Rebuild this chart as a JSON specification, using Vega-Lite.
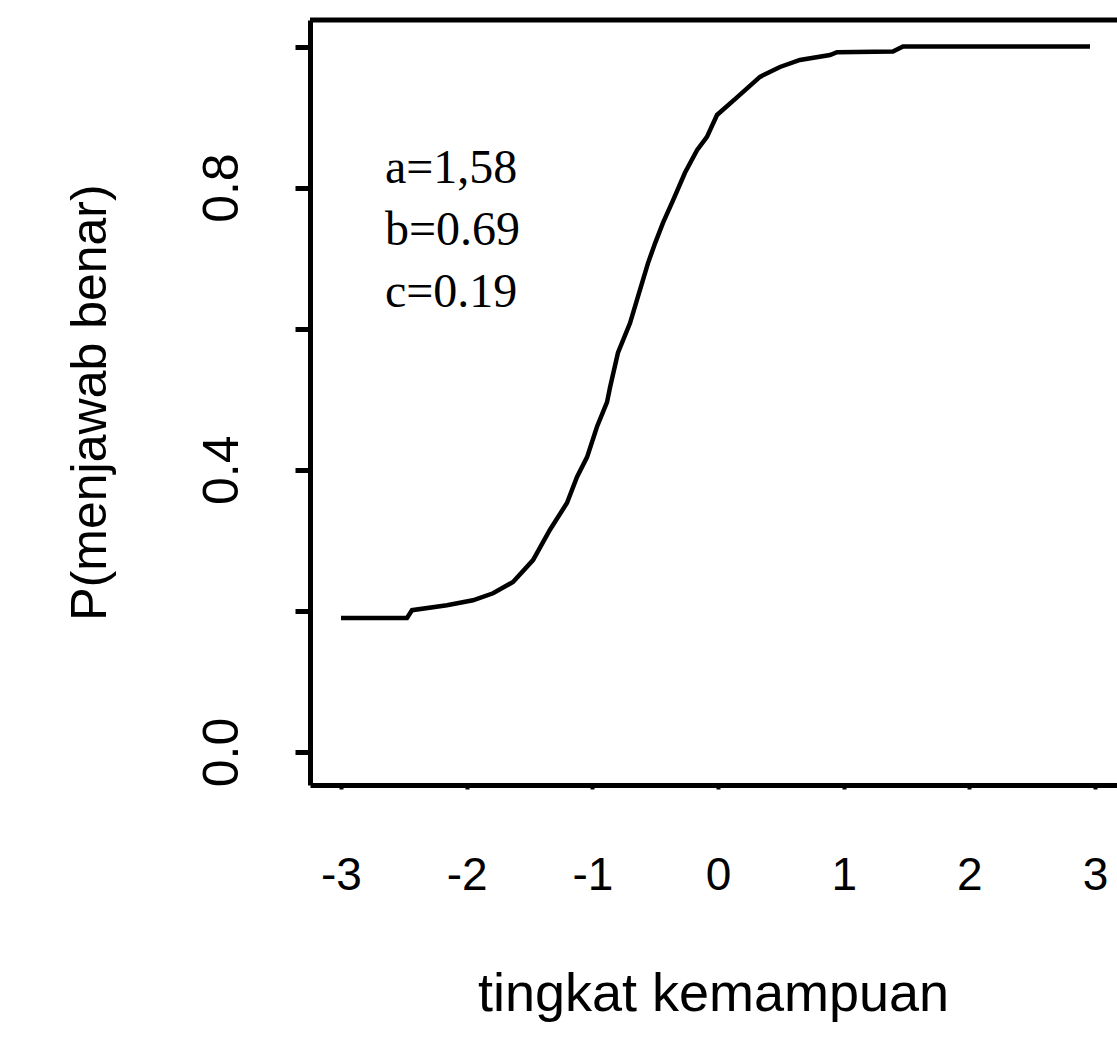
{
  "$schema": "https://vega.github.io/schema/vega-lite/v6.json",
  "width": 807,
  "height": 765,
  "autosize": {"type": "none"},
  "padding": {"left": 310, "top": 20, "right": 0, "bottom": 255},
  "background": "white",
  "config": {"view": {"stroke": null}, "font": "Liberation Sans"},
  "layer": [
    {
      "data": {
        "values": [
          {"theta": -3.0, "p": 0.19},
          {"theta": -2.475, "p": 0.19},
          {"theta": -2.435, "p": 0.201},
          {"theta": -2.157, "p": 0.208},
          {"theta": -1.95, "p": 0.215},
          {"theta": -1.79, "p": 0.225},
          {"theta": -1.631, "p": 0.241},
          {"theta": -1.472, "p": 0.272},
          {"theta": -1.337, "p": 0.315},
          {"theta": -1.202, "p": 0.353},
          {"theta": -1.122, "p": 0.39},
          {"theta": -1.042, "p": 0.418},
          {"theta": -0.963, "p": 0.461},
          {"theta": -0.883, "p": 0.496},
          {"theta": -0.859, "p": 0.517},
          {"theta": -0.796, "p": 0.566},
          {"theta": -0.7, "p": 0.608},
          {"theta": -0.621, "p": 0.655},
          {"theta": -0.557, "p": 0.693},
          {"theta": -0.501, "p": 0.721},
          {"theta": -0.438, "p": 0.75},
          {"theta": -0.358, "p": 0.782},
          {"theta": -0.263, "p": 0.821},
          {"theta": -0.167, "p": 0.853},
          {"theta": -0.088, "p": 0.872},
          {"theta": -0.008, "p": 0.903},
          {"theta": 0.151, "p": 0.928},
          {"theta": 0.334, "p": 0.957},
          {"theta": 0.493, "p": 0.971},
          {"theta": 0.652, "p": 0.981},
          {"theta": 0.891, "p": 0.988},
          {"theta": 0.947, "p": 0.992},
          {"theta": 1.392, "p": 0.993},
          {"theta": 1.472, "p": 1.0},
          {"theta": 2.96, "p": 1.0}
        ]
      },
      "mark": {"type": "line", "color": "black", "strokeWidth": 4.5},
      "encoding": {
        "x": {
          "field": "theta",
          "type": "quantitative",
          "scale": {"domain": [-3.2467, 3.1749], "nice": false, "zero": false},
          "axis": {
            "values": [-3, -2, -1, 0, 1, 2, 3],
            "labelExpr": "'' + datum.value",
            "grid": false,
            "domain": true,
            "domainColor": "black",
            "domainWidth": 5,
            "ticks": true,
            "tickColor": "black",
            "tickSize": 4,
            "tickWidth": 4,
            "labelFlush": false,
            "labelOverlap": false,
            "labelFont": "Liberation Sans",
            "labelFontSize": 46,
            "labelColor": "black",
            "labelBaseline": "alphabetic",
            "labelPadding": 100,
            "title": "tingkat kemampuan",
            "titleFont": "Liberation Sans",
            "titleFontSize": 54,
            "titleFontWeight": "normal",
            "titleColor": "black",
            "titleBaseline": "alphabetic",
            "titleY": 225,
            "titleX": 403
          }
        },
        "y": {
          "field": "p",
          "type": "quantitative",
          "scale": {"domain": [-0.0468, 1.0376], "nice": false, "zero": false},
          "axis": {
            "values": [0, 0.2, 0.4, 0.6, 0.8, 1.0],
            "labelExpr": "datum.value == 0 || datum.value == 0.4 || datum.value == 0.8 ? format(datum.value, '.1f') : ''",
            "grid": false,
            "domain": true,
            "domainColor": "black",
            "domainWidth": 5,
            "ticks": true,
            "tickColor": "black",
            "tickSize": 15,
            "tickWidth": 5,
            "labelFlush": false,
            "labelOverlap": false,
            "labelAngle": 270,
            "labelAlign": "center",
            "labelBaseline": "alphabetic",
            "labelPadding": 58,
            "labelFont": "Liberation Sans",
            "labelFontSize": 50,
            "labelColor": "black",
            "title": "P(menjawab benar)",
            "titleFont": "Liberation Sans",
            "titleFontSize": 50,
            "titleFontWeight": "normal",
            "titleColor": "black",
            "titleAngle": 270,
            "titleAlign": "center",
            "titleBaseline": "alphabetic",
            "titleX": -205,
            "titleY": 382
          }
        }
      }
    },
    {
      "data": {"values": [{}]},
      "mark": {"type": "rule", "color": "black", "strokeWidth": 5},
      "encoding": {"y": {"datum": 1.0376}}
    },
    {
      "data": {"values": [{}]},
      "mark": {
        "type": "text",
        "text": ["a=1,58", "b=0.69", "c=0.19"],
        "font": "Liberation Serif",
        "fontSize": 48,
        "align": "left",
        "baseline": "alphabetic",
        "lineHeight": 62,
        "color": "black"
      },
      "encoding": {"x": {"datum": -2.65}, "y": {"datum": 0.807}}
    }
  ]
}
